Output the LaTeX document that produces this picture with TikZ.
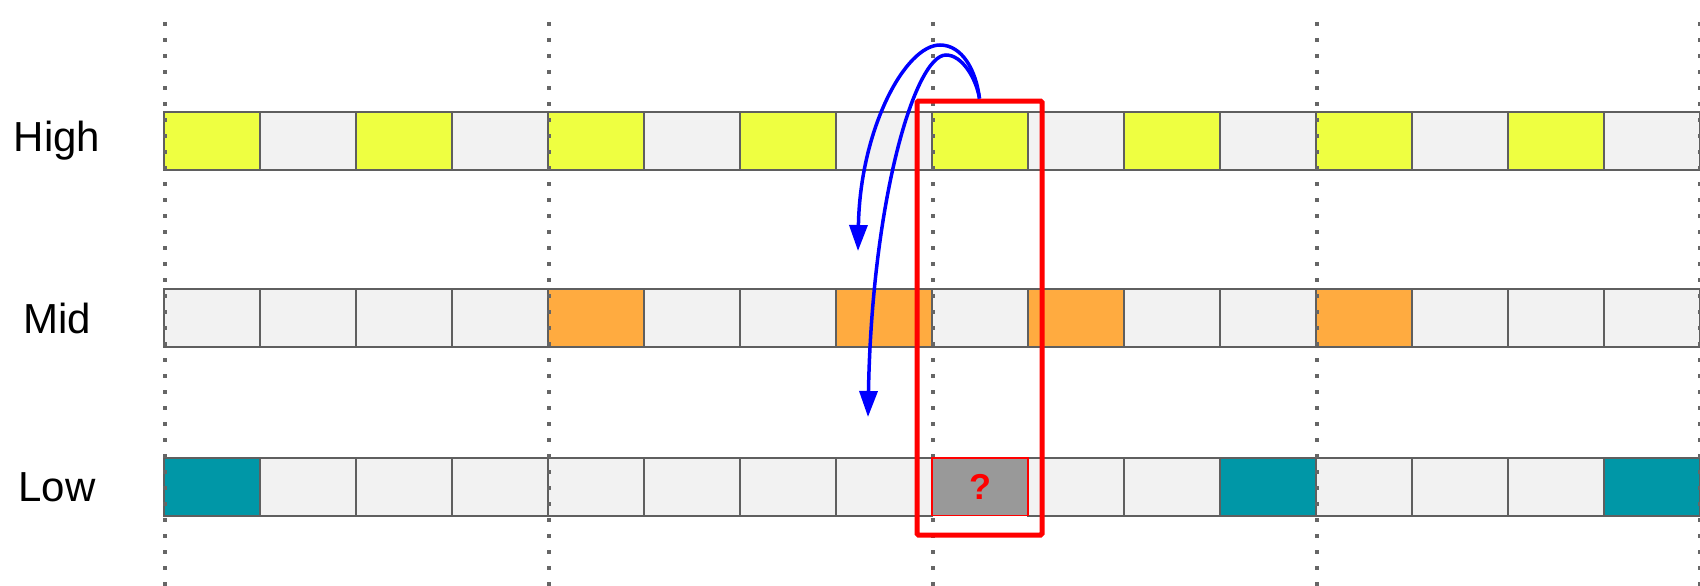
\documentclass[tikz,border=0pt]{standalone}
\usepackage{fontspec}
\setmainfont{Liberation Sans}
\usetikzlibrary{arrows.meta}

\definecolor{fillG}{HTML}{F2F2F2}
\definecolor{fillY}{HTML}{EEFF41}
\definecolor{fillO}{HTML}{FFAB40}
\definecolor{fillT}{HTML}{0097A7}
\definecolor{fillQ}{HTML}{999999}
\definecolor{edge}{HTML}{5F5F5F}
\definecolor{guidegray}{HTML}{666666}

\begin{document}
\begin{tikzpicture}[x=1pt,y=-1pt,
  cell/.style={draw=edge, line width=2pt, rectangle, inner sep=0pt, outer sep=0pt,
               minimum width=96pt, minimum height=57.5pt},
  qcell/.style={cell, draw=red, line width=1.5pt, fill=fillQ,
               font=\bfseries\fontsize{36}{40}\selectfont, text=red},
  rowlabel/.style={font=\fontsize{42}{48}\selectfont, text=black, inner sep=0pt},
  guide/.style={draw=guidegray, line width=4pt, dash pattern=on 4pt off 12pt},
  frame/.style={draw=red, line width=5pt, rounded corners=1.5pt, inner sep=0pt,
               minimum width=125pt, minimum height=434pt},
  flow/.style={draw=blue, line width=3.5pt, -{Triangle[width=18pt,length=26pt]}}
]
\useasboundingbox (0,0) rectangle (1700,586);

% row labels
\node[rowlabel] (lblHigh) at (57,141) {High};
\node[rowlabel] (lblMid)  at (57,318) {Mid};
\node[rowlabel] (lblLow)  at (57,487) {Low};

% High row
\foreach \f [count=\i from 0] in {Y,G,Y,G,Y,G,Y,G,Y,G,Y,G,Y,G,Y,G}
  \node[cell, fill=fill\f] (h\i) at ({212+96*\i},140.75) {};

% Mid row
\foreach \f [count=\i from 0] in {G,G,G,G,O,G,G,O,G,O,G,G,O,G,G,G}
  \node[cell, fill=fill\f] (m\i) at ({212+96*\i},318) {};

% Low row (cell 8 is drawn later, above the guides)
\foreach \i/\f in {0/T,1/G,2/G,3/G,4/G,5/G,6/G,7/G,9/G,10/G,11/T,12/G,13/G,14/G,15/T}
  \node[cell, fill=fill\f] (l\i) at ({212+96*\i},486.75) {};

% dotted guides every four cells
\foreach \x in {165,549,933,1317,1700}
  \draw[guide] (\x,22) -- (\x,590);

% unknown cell
\node[qcell] (l8) at (980,486.75) {?};

% highlighted column
\node[frame] (focus) at (979.5,318) {};

% arrows from the high sample down to the lower rows
\coordinate (tipMid) at (858,251);
\coordinate (tipLow) at (868,417);
\draw[flow] (focus.north) .. controls (976,70) and (962,45) .. (940,45)
            .. controls (905,45) and (860,130) .. (tipMid);
\draw[flow] (focus.north) .. controls (976,78) and (962,55) .. (946,55)
            .. controls (915,55) and (872,200) .. (tipLow);
\end{tikzpicture}
\end{document}
